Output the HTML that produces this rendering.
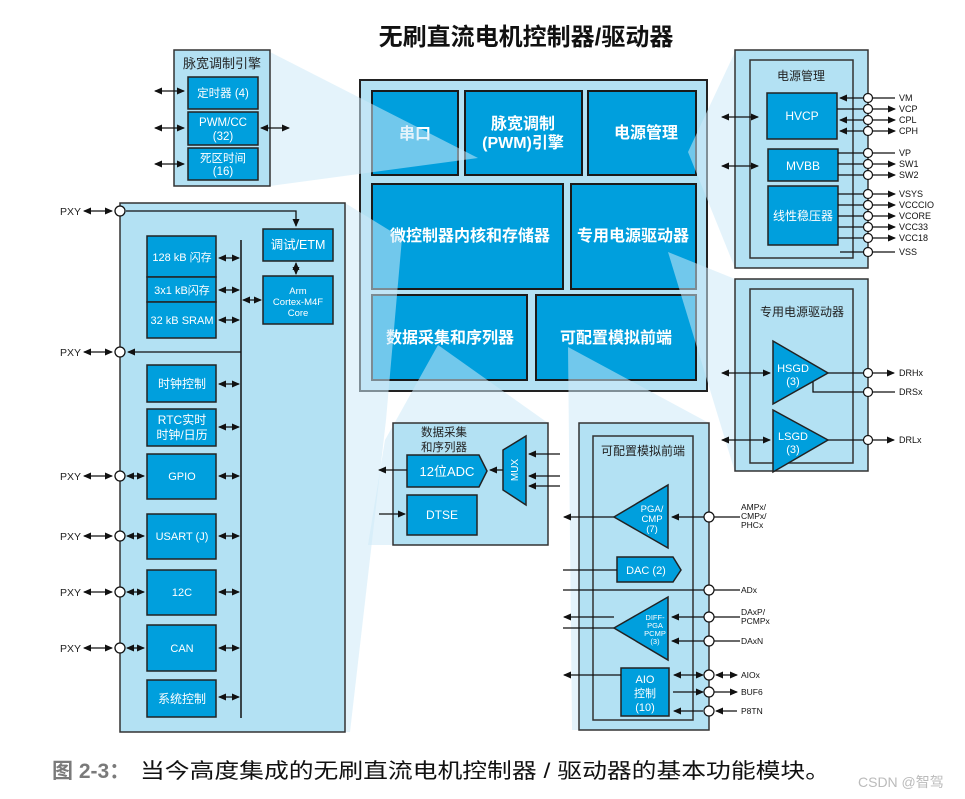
<!DOCTYPE html>
<html><head><meta charset="utf-8"><style>
html,body{margin:0;padding:0;background:#fff;}
svg{display:block;}
text{font-family:"Liberation Sans","Noto Sans CJK SC",sans-serif;}
</style></head><body>
<svg width="965" height="799" viewBox="0 0 965 799" xmlns="http://www.w3.org/2000/svg">
<defs>
<marker id="a" markerWidth="8" markerHeight="8" refX="7" refY="4" orient="auto-start-reverse" markerUnits="userSpaceOnUse"><path d="M0,0.5 L8,4 L0,7.5 Z" fill="#111"/></marker>
</defs>
<g stroke="#222" stroke-width="1.3" fill="none">
</g>
<!-- Title -->
<text x="526" y="45" font-size="24" font-weight="bold" text-anchor="middle" fill="#111">无刷直流电机控制器/驱动器</text>

<!-- Main block -->
<rect x="360" y="80" width="347" height="311" fill="#b3e1f3" stroke="#222" stroke-width="2"/>
<g fill="#009fdd" stroke="#1a1a1a" stroke-width="2">
<rect x="372" y="91" width="86" height="84"/>
<rect x="465" y="91" width="117" height="84"/>
<rect x="588" y="91" width="108" height="84"/>
<rect x="372" y="184" width="191" height="105"/>
<rect x="571" y="184" width="125" height="105"/>
<rect x="372" y="295" width="155" height="85"/>
<rect x="536" y="295" width="160" height="85"/>
</g>
<g fill="#fff" font-size="16" font-weight="bold" text-anchor="middle">
<text x="415" y="139">串口</text>
<text x="523" y="129">脉宽调制</text>
<text x="523" y="148">(PWM)引擎</text>
<text x="646" y="138">电源管理</text>
<text x="470" y="241">微控制器内核和存储器</text>
<text x="633" y="241">专用电源驱动器</text>
<text x="450" y="343">数据采集和序列器</text>
<text x="616" y="343">可配置模拟前端</text>
</g>

<!-- Fans (semi-transparent) -->
<g fill="#cdeaf7" fill-opacity="0.55">
<polygon points="270,52 478,158 270,186"/>
<polygon points="345,203 402,238 386,420 350,732 345,732"/>
<polygon points="438,345 548,423 393,423 393,545 368,545 385,440"/>
<polygon points="568,347 709,423 579,423 579,730 572,730"/>
<polygon points="735,52 688,152 735,268"/>
<polygon points="668,252 735,279 735,472"/>
</g>

<!-- PWM engine box -->
<rect x="174" y="50" width="96" height="136" fill="#b3e1f3" stroke="#333" stroke-width="1.5"/>
<text x="222" y="68" font-size="13" text-anchor="middle" fill="#222">脉宽调制引擎</text>
<g fill="#009fdd" stroke="#222" stroke-width="1.5">
<rect x="188" y="77" width="70" height="32"/>
<rect x="188" y="112" width="70" height="33"/>
<rect x="188" y="148" width="70" height="32"/>
</g>
<g fill="#fff" font-size="11.5" text-anchor="middle">
<text x="223" y="97">定时器 (4)</text>
<text x="223" y="126">PWM/CC</text>
<text x="223" y="140">(32)</text>
<text x="223" y="162">死区时间</text>
<text x="223" y="175">(16)</text>
</g>
<g stroke="#111" stroke-width="1.3" marker-start="url(#a)" marker-end="url(#a)">
<line x1="155" y1="91" x2="184" y2="91"/>
<line x1="155" y1="128" x2="184" y2="128"/>
<line x1="155" y1="164" x2="184" y2="164"/>
<line x1="261" y1="128" x2="289" y2="128"/>
</g>

<!-- Left MCU box -->
<rect x="120" y="203" width="225" height="529" fill="#b3e1f3" stroke="#333" stroke-width="1.5"/>
<line x1="241" y1="240" x2="241" y2="718" stroke="#111" stroke-width="1.5"/>
<g fill="#009fdd" stroke="#222" stroke-width="1.5">
<rect x="147" y="236" width="69" height="41"/>
<rect x="147" y="277" width="69" height="25"/>
<rect x="147" y="302" width="69" height="36"/>
<rect x="147" y="365" width="69" height="37"/>
<rect x="147" y="409" width="69" height="37"/>
<rect x="147" y="454" width="69" height="45"/>
<rect x="147" y="514" width="69" height="45"/>
<rect x="147" y="570" width="69" height="45"/>
<rect x="147" y="625" width="69" height="46"/>
<rect x="147" y="680" width="69" height="37"/>
<rect x="263" y="229" width="70" height="32"/>
<rect x="263" y="276" width="70" height="48"/>
</g>
<g fill="#fff" font-size="11" text-anchor="middle">
<text x="182" y="261">128 kB 闪存</text>
<text x="182" y="294">3x1 kB闪存</text>
<text x="182" y="324">32 kB SRAM</text>
<text x="182" y="388" font-size="12">时钟控制</text>
<text x="182" y="424" font-size="12">RTC实时</text>
<text x="182" y="439" font-size="12">时钟/日历</text>
<text x="182" y="480">GPIO</text>
<text x="182" y="540">USART (J)</text>
<text x="182" y="596">12C</text>
<text x="182" y="652">CAN</text>
<text x="182" y="703" font-size="12">系统控制</text>
<text x="298" y="249" font-size="12.5">调试/ETM</text>
<text x="298" y="294" font-size="9.5">Arm</text>
<text x="298" y="305" font-size="9.5">Cortex-M4F</text>
<text x="298" y="316" font-size="9.5">Core</text>
</g>
<g stroke="#111" stroke-width="1.3" marker-start="url(#a)" marker-end="url(#a)">
<line x1="219" y1="258" x2="239" y2="258"/>
<line x1="219" y1="290" x2="239" y2="290"/>
<line x1="219" y1="320" x2="239" y2="320"/>
<line x1="219" y1="384" x2="239" y2="384"/>
<line x1="219" y1="427" x2="239" y2="427"/>
<line x1="219" y1="476" x2="239" y2="476"/>
<line x1="219" y1="536" x2="239" y2="536"/>
<line x1="219" y1="592" x2="239" y2="592"/>
<line x1="219" y1="648" x2="239" y2="648"/>
<line x1="219" y1="697" x2="239" y2="697"/>
<line x1="243" y1="300" x2="261" y2="300"/>
<line x1="296" y1="263" x2="296" y2="274"/>
<line x1="127" y1="476" x2="144" y2="476"/>
<line x1="127" y1="536" x2="144" y2="536"/>
<line x1="127" y1="592" x2="144" y2="592"/>
<line x1="127" y1="648" x2="144" y2="648"/>
<line x1="84" y1="211" x2="112" y2="211"/>
<line x1="84" y1="352" x2="112" y2="352"/>
<line x1="84" y1="476" x2="112" y2="476"/>
<line x1="84" y1="536" x2="112" y2="536"/>
<line x1="84" y1="592" x2="112" y2="592"/>
<line x1="84" y1="648" x2="112" y2="648"/>
</g>
<polyline points="126,211 296,211 296,226" fill="none" stroke="#111" stroke-width="1.3" marker-end="url(#a)"/>
<line x1="241" y1="352" x2="128" y2="352" stroke="#111" stroke-width="1.3" marker-end="url(#a)"/>
<g fill="#fff" stroke="#111" stroke-width="1.3">
<circle cx="120" cy="211" r="5"/><circle cx="120" cy="352" r="5"/><circle cx="120" cy="476" r="5"/>
<circle cx="120" cy="536" r="5"/><circle cx="120" cy="592" r="5"/><circle cx="120" cy="648" r="5"/>
</g>
<g font-size="10.5" fill="#222">
<text x="60" y="215">PXY</text><text x="60" y="356">PXY</text><text x="60" y="480">PXY</text>
<text x="60" y="540">PXY</text><text x="60" y="596">PXY</text><text x="60" y="652">PXY</text>
</g>

<!-- Power management -->
<rect x="735" y="50" width="133" height="218" fill="#b3e1f3" stroke="#333" stroke-width="1.5"/>
<rect x="750" y="60" width="103" height="198" fill="#b3e1f3" stroke="#333" stroke-width="1.5"/>
<text x="801" y="80" font-size="12" text-anchor="middle" fill="#222">电源管理</text>
<g fill="#009fdd" stroke="#222" stroke-width="1.5">
<rect x="767" y="93" width="70" height="46"/>
<rect x="768" y="149" width="70" height="32"/>
<rect x="768" y="186" width="70" height="59"/>
</g>
<g fill="#fff" font-size="12" text-anchor="middle">
<text x="802" y="120">HVCP</text><text x="803" y="170">MVBB</text><text x="803" y="220">线性稳压器</text>
</g>
<g stroke="#111" stroke-width="1.3" marker-start="url(#a)" marker-end="url(#a)">
<line x1="722" y1="117" x2="758" y2="117"/>
<line x1="722" y1="166" x2="758" y2="166"/>
<line x1="840" y1="120" x2="895" y2="120"/>
<line x1="840" y1="131" x2="895" y2="131"/>
</g>
<g stroke="#111" stroke-width="1.3" fill="none">
<line x1="895" y1="98" x2="840" y2="98" marker-end="url(#a)"/>
<line x1="837" y1="109" x2="895" y2="109" marker-end="url(#a)"/>
<line x1="838" y1="153" x2="895" y2="153"/>
<line x1="838" y1="164" x2="895" y2="164" marker-end="url(#a)"/>
<line x1="838" y1="175" x2="895" y2="175" marker-end="url(#a)"/>
<line x1="838" y1="194" x2="895" y2="194" marker-end="url(#a)"/>
<line x1="838" y1="205" x2="895" y2="205" marker-end="url(#a)"/>
<line x1="838" y1="216" x2="895" y2="216" marker-end="url(#a)"/>
<line x1="838" y1="227" x2="895" y2="227" marker-end="url(#a)"/>
<line x1="838" y1="238" x2="895" y2="238" marker-end="url(#a)"/>
<line x1="840" y1="252" x2="895" y2="252"/>
</g>
<g fill="#fff" stroke="#111" stroke-width="1.2">
<circle cx="868" cy="98" r="4.5"/><circle cx="868" cy="109" r="4.5"/><circle cx="868" cy="120" r="4.5"/><circle cx="868" cy="131" r="4.5"/>
<circle cx="868" cy="153" r="4.5"/><circle cx="868" cy="164" r="4.5"/><circle cx="868" cy="175" r="4.5"/>
<circle cx="868" cy="194" r="4.5"/><circle cx="868" cy="205" r="4.5"/><circle cx="868" cy="216" r="4.5"/><circle cx="868" cy="227" r="4.5"/><circle cx="868" cy="238" r="4.5"/>
<circle cx="868" cy="252" r="4.5"/>
</g>
<g font-size="9" fill="#111">
<text x="899" y="101">VM</text><text x="899" y="112">VCP</text><text x="899" y="123">CPL</text><text x="899" y="134">CPH</text>
<text x="899" y="156">VP</text><text x="899" y="167">SW1</text><text x="899" y="178">SW2</text>
<text x="899" y="197">VSYS</text><text x="899" y="208">VCCCIO</text><text x="899" y="219">VCORE</text><text x="899" y="230">VCC33</text><text x="899" y="241">VCC18</text>
<text x="899" y="255">VSS</text>
</g>

<!-- Driver -->
<rect x="735" y="279" width="133" height="192" fill="#b3e1f3" stroke="#333" stroke-width="1.5"/>
<rect x="750" y="289" width="103" height="174" fill="#b3e1f3" stroke="#333" stroke-width="1.5"/>
<text x="802" y="316" font-size="12" text-anchor="middle" fill="#222">专用电源驱动器</text>
<g fill="#009fdd" stroke="#222" stroke-width="1.5">
<polygon points="773,341 773,404 828,373"/>
<polygon points="773,410 773,472 828,440"/>
</g>
<g fill="#fff" font-size="11" text-anchor="middle">
<text x="793" y="372">HSGD</text><text x="793" y="385">(3)</text>
<text x="793" y="440">LSGD</text><text x="793" y="453">(3)</text>
</g>
<g stroke="#111" stroke-width="1.3" fill="none">
<line x1="722" y1="373" x2="770" y2="373" marker-start="url(#a)" marker-end="url(#a)"/>
<line x1="722" y1="440" x2="770" y2="440" marker-start="url(#a)" marker-end="url(#a)"/>
<line x1="828" y1="373" x2="894" y2="373" marker-end="url(#a)"/>
<polyline points="813,382 813,392 895,392"/>
<line x1="828" y1="440" x2="894" y2="440" marker-end="url(#a)"/>
</g>
<g fill="#fff" stroke="#111" stroke-width="1.2">
<circle cx="868" cy="373" r="4.5"/><circle cx="868" cy="392" r="4.5"/><circle cx="868" cy="440" r="4.5"/>
</g>
<g font-size="9" fill="#111"><text x="899" y="376">DRHx</text><text x="899" y="395">DRSx</text><text x="899" y="443">DRLx</text></g>

<!-- DAQ -->
<rect x="393" y="423" width="155" height="122" fill="#b3e1f3" stroke="#333" stroke-width="1.5"/>
<text x="444" y="436" font-size="11.5" text-anchor="middle" fill="#222">数据采集</text>
<text x="444" y="451" font-size="11.5" text-anchor="middle" fill="#222">和序列器</text>
<g fill="#009fdd" stroke="#222" stroke-width="1.5">
<polygon points="407,455 479,455 487,471 479,487 407,487"/>
<rect x="407" y="495" width="70" height="40"/>
<polygon points="503,450 526,436 526,505 503,490"/>
</g>
<text x="447" y="476" font-size="13" text-anchor="middle" fill="#fff">12位ADC</text>
<text x="442" y="519" font-size="12" text-anchor="middle" fill="#fff">DTSE</text>
<text x="0" y="0" font-size="10" fill="#fff" text-anchor="middle" transform="translate(518,470) rotate(-90)">MUX</text>
<g stroke="#111" stroke-width="1.3">
<line x1="407" y1="470" x2="379" y2="470" marker-end="url(#a)"/>
<line x1="379" y1="514" x2="405" y2="514" marker-end="url(#a)"/>
<line x1="503" y1="470" x2="490" y2="470" marker-end="url(#a)"/>
<line x1="560" y1="454" x2="529" y2="454" marker-end="url(#a)"/>
<line x1="560" y1="476" x2="529" y2="476" marker-end="url(#a)"/>
<line x1="560" y1="486" x2="529" y2="486" marker-end="url(#a)"/>
</g>

<!-- AFE -->
<rect x="579" y="423" width="130" height="307" fill="#b3e1f3" stroke="#333" stroke-width="1.5"/>
<rect x="593" y="436" width="100" height="284" fill="#b3e1f3" stroke="#333" stroke-width="1.5"/>
<text x="643" y="455" font-size="12" text-anchor="middle" fill="#222">可配置模拟前端</text>
<g fill="#009fdd" stroke="#222" stroke-width="1.5">
<polygon points="668,485 668,548 614,517"/>
<polygon points="617,557 673,557 681,570 673,582 617,582"/>
<polygon points="668,597 668,660 614,628"/>
<rect x="621" y="668" width="48" height="48"/>
</g>
<g fill="#fff" text-anchor="middle">
<text x="652" y="512" font-size="9.5">PGA/</text><text x="652" y="522" font-size="9.5">CMP</text><text x="652" y="532" font-size="9.5">(7)</text>
<text x="646" y="574" font-size="11">DAC (2)</text>
<text x="655" y="620" font-size="7.5">DIFF-</text><text x="655" y="628" font-size="7.5">PGA</text><text x="655" y="636" font-size="7.5">PCMP</text><text x="655" y="644" font-size="7.5">(3)</text>
<text x="645" y="683" font-size="11">AIO</text><text x="645" y="697" font-size="11">控制</text><text x="645" y="711" font-size="11">(10)</text>
</g>
<g stroke="#111" stroke-width="1.3" fill="none">
<line x1="614" y1="517" x2="564" y2="517" marker-end="url(#a)"/>
<line x1="740" y1="517" x2="672" y2="517" marker-end="url(#a)"/>
<line x1="563" y1="570" x2="617" y2="570"/>
<line x1="563" y1="590" x2="740" y2="590"/>
<line x1="614" y1="617" x2="564" y2="617" marker-end="url(#a)"/>
<line x1="740" y1="617" x2="672" y2="617" marker-end="url(#a)"/>
<line x1="563" y1="628" x2="614" y2="628"/>
<line x1="740" y1="641" x2="672" y2="641" marker-end="url(#a)"/>
<line x1="621" y1="675" x2="564" y2="675" marker-end="url(#a)"/>
<line x1="674" y1="675" x2="703" y2="675" marker-start="url(#a)" marker-end="url(#a)"/>
<line x1="716" y1="675" x2="737" y2="675" marker-start="url(#a)" marker-end="url(#a)"/>
<line x1="673" y1="692" x2="703" y2="692" marker-end="url(#a)"/>
<line x1="713" y1="692" x2="737" y2="692" marker-end="url(#a)"/>
<line x1="703" y1="711" x2="674" y2="711" marker-end="url(#a)"/>
<line x1="737" y1="711" x2="716" y2="711" marker-end="url(#a)"/>
</g>
<g fill="#fff" stroke="#111" stroke-width="1.2">
<circle cx="709" cy="517" r="5"/><circle cx="709" cy="590" r="5"/><circle cx="709" cy="617" r="5"/><circle cx="709" cy="641" r="5"/>
<circle cx="709" cy="675" r="5"/><circle cx="709" cy="692" r="5"/><circle cx="709" cy="711" r="5"/>
</g>
<g font-size="8.5" fill="#111">
<text x="741" y="510">AMPx/</text><text x="741" y="519">CMPx/</text><text x="741" y="528">PHCx</text>
<text x="741" y="593">ADx</text>
<text x="741" y="615">DAxP/</text><text x="741" y="624">PCMPx</text>
<text x="741" y="644">DAxN</text>
<text x="741" y="678">AIOx</text><text x="741" y="695">BUF6</text><text x="741" y="714">P8TN</text>
</g>

<!-- Caption -->
<text x="52" y="778" font-size="21" font-weight="bold" fill="#7a7a7a">图 2-3：</text>
<text x="140" y="778" font-size="21" fill="#111" textLength="690" lengthAdjust="spacingAndGlyphs">当今高度集成的无刷直流电机控制器 / 驱动器的基本功能模块。</text>
<text x="858" y="787" font-size="14" fill="#bbb">CSDN @智驾</text>
</svg>
</body></html>
